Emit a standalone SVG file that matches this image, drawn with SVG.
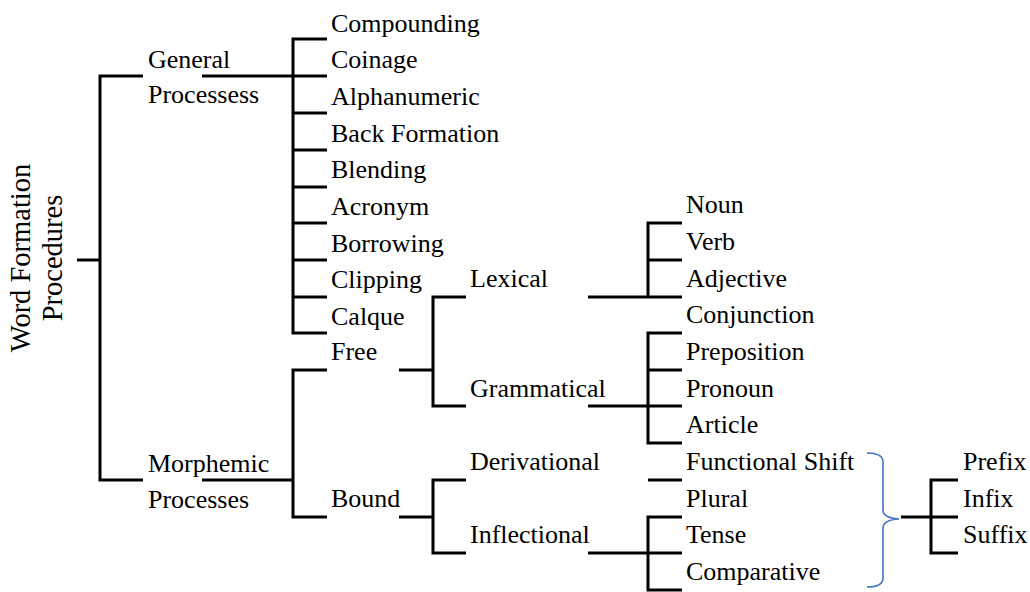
<svg xmlns="http://www.w3.org/2000/svg" width="1030" height="592" viewBox="0 0 1030 592">
<style>
text{font-family:"Liberation Serif","Times New Roman",serif;font-size:26px;fill:#000}
.t{font-size:28.5px}
.c path{fill:none;stroke:#000;stroke-width:3;stroke-linejoin:miter}
.c .br{stroke:#4472C4;stroke-width:1.6}
</style>
<rect width="1030" height="592" fill="#fff"/>
<g class="c" id="connectors">
<path d="M77,260H100"/>
<path d="M143,76H100V480H143"/>
<path d="M202,76H293"/>
<path d="M327,39H293V333H327"/>
<path d="M293,76H327M293,113H327M293,150H327M293,187H327M293,223H327M293,260H327M293,297H327"/>
<path d="M202,480H293"/>
<path d="M327,370H293V517H327"/>
<path d="M399,370H433"/>
<path d="M466,297H433V406H466"/>
<path d="M399,517H433"/>
<path d="M466,480H433V553H466"/>
<path d="M588,297H682"/>
<path d="M682,223H648V297"/>
<path d="M648,260H682"/>
<path d="M588,406H682"/>
<path d="M682,333H648V443H682"/>
<path d="M648,370H682"/>
<path d="M648,480H682"/>
<path d="M588,553H682"/>
<path d="M682,517H648V590H682"/>
<path class="br" d="M867,453Q883,453 883,462L883,510Q883,518 899,519Q883,520 883,528L883,578Q883,587 867,587"/>
<path d="M901,517H958"/>
<path d="M958,480H931V553H958"/>
</g>
<g id="root"><text class="t" text-anchor="middle" transform="translate(30,258) rotate(-90)">Word Formation</text><text class="t" text-anchor="middle" transform="translate(62,258) rotate(-90)">Procedures</text></g>
<g id="general"><text x="148" y="68">General</text><text x="148" y="103">Processess</text></g>
<g id="morphemic"><text x="148" y="472">Morphemic</text><text x="148" y="508">Processes</text></g>
<g id="compounding"><text x="331" y="32">Compounding</text></g>
<g id="coinage"><text x="331" y="68">Coinage</text></g>
<g id="alphanumeric"><text x="331" y="105">Alphanumeric</text></g>
<g id="backformation"><text x="331" y="142">Back Formation</text></g>
<g id="blending"><text x="331" y="178">Blending</text></g>
<g id="acronym"><text x="331" y="215">Acronym</text></g>
<g id="borrowing"><text x="331" y="252">Borrowing</text></g>
<g id="clipping"><text x="331" y="288">Clipping</text></g>
<g id="calque"><text x="331" y="325">Calque</text></g>
<g id="free"><text x="331" y="360">Free</text></g>
<g id="bound"><text x="331" y="507">Bound</text></g>
<g id="lexical"><text x="470" y="287">Lexical</text></g>
<g id="grammatical"><text x="470" y="397">Grammatical</text></g>
<g id="derivational"><text x="470" y="470">Derivational</text></g>
<g id="inflectional"><text x="470" y="543">Inflectional</text></g>
<g id="noun"><text x="686" y="213">Noun</text></g>
<g id="verb"><text x="686" y="250">Verb</text></g>
<g id="adjective"><text x="686" y="287">Adjective</text></g>
<g id="conjunction"><text x="686" y="323">Conjunction</text></g>
<g id="preposition"><text x="686" y="360">Preposition</text></g>
<g id="pronoun"><text x="686" y="397">Pronoun</text></g>
<g id="article"><text x="686" y="433">Article</text></g>
<g id="functionalshift"><text x="686" y="470">Functional Shift</text></g>
<g id="plural"><text x="686" y="507">Plural</text></g>
<g id="tense"><text x="686" y="543">Tense</text></g>
<g id="comparative"><text x="686" y="580">Comparative</text></g>
<g id="prefix"><text x="963" y="470">Prefix</text></g>
<g id="infix"><text x="963" y="507">Infix</text></g>
<g id="suffix"><text x="963" y="543">Suffix</text></g>
</svg>
